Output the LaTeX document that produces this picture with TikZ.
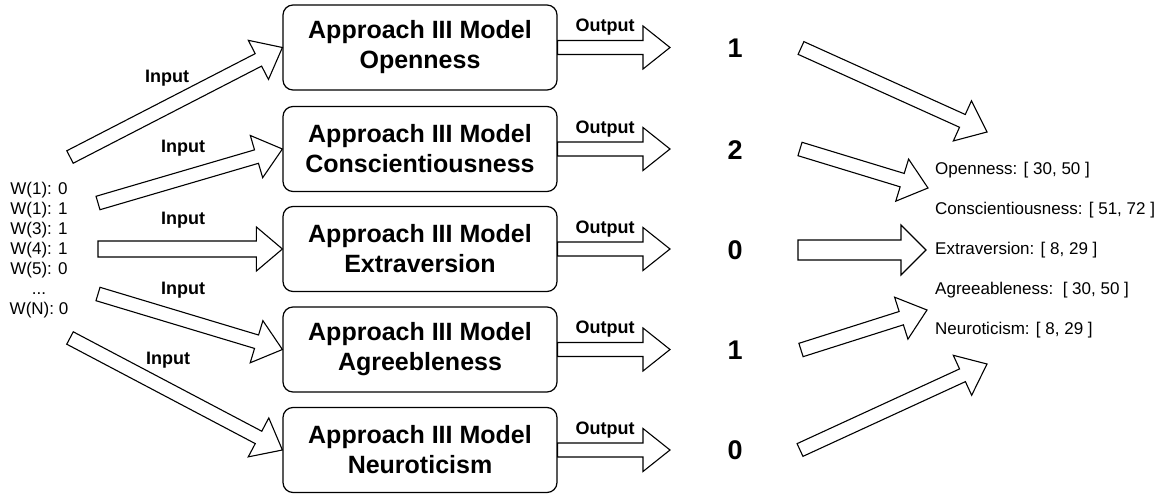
\documentclass[tikz,border=0pt]{standalone}
\usepackage{fontspec}
\setmainfont{Liberation Sans}
\usetikzlibrary{calc}

% Hollow block arrow from #1 (tail) to #2 (tip):
% #3 half shaft width, #4 half head width, #5 head length
\newcommand\fatarrow[5]{%
  \coordinate (fahead) at ($(#2)!#5!(#1)$);
  \draw[fat] ($(#1)!#3!90:(#2)$) -- ($(fahead)!#3!-90:(#1)$)
    -- ($(fahead)!#4!-90:(#1)$) -- (#2) -- ($(fahead)!#4!90:(#1)$)
    -- ($(fahead)!#3!90:(#1)$) -- ($(#1)!#3!-90:(#2)$) -- cycle;
}

\tikzset{
  fat/.style={draw=black, line width=1.1pt, fill=white, line join=miter},
  model/.style={draw, rounded corners=10pt, line width=1.2pt,
    minimum width=274pt, minimum height=85pt, align=center, inner sep=0pt,
    font=\fontsize{25pt}{30pt}\selectfont\bfseries},
  lbl/.style={font=\fontsize{18pt}{20pt}\selectfont\bfseries, inner sep=0pt},
  score/.style={font=\fontsize{27pt}{30pt}\selectfont\bfseries, inner sep=0pt},
  scorerange/.style={font=\fontsize{17pt}{20pt}\selectfont, anchor=west, inner sep=0pt},
}

\begin{document}
\begin{tikzpicture}[x=1pt,y=-1pt]
\useasboundingbox (0,0) rectangle (1170,495);

% weight vector
\node[font=\fontsize{17pt}{20pt}\selectfont, align=center, inner sep=0pt] (w) at (39,250)
  {W(1): 0\\W(1): 1\\W(3): 1\\W(4): 1\\W(5): 0\\...\\W(N): 0};

% the five trait models
\node[model] (m1) at (420,47.5) {Approach III Model\\Openness};
\node[model] (m2) at (420,149) {Approach III Model\\Conscientiousness};
\node[model] (m3) at (420,249) {Approach III Model\\Extraversion};
\node[model] (m4) at (420,349.5) {Approach III Model\\Agreebleness};
\node[model] (m5) at (420,450) {Approach III Model\\Neuroticism};

% predicted classes
\node[score] (n1) at (735,48) {1};
\node[score] (n2) at (735,150) {2};
\node[score] (n3) at (735,250) {0};
\node[score] (n4) at (735,350) {1};
\node[score] (n5) at (735,450) {0};

% score ranges
\node[scorerange] (t1) at (935,170) {Openness: [ 30, 50 ]};
\node[scorerange] (t2) at (935,210) {Conscientiousness: [ 51, 72 ]};
\node[scorerange] (t3) at (935,250) {Extraversion: [ 8, 29 ]};
\node[scorerange] (t4) at (935,290) {Agreeableness:\ \ [ 30, 50 ]};
\node[scorerange] (t5) at (935,330) {Neuroticism: [ 8, 29 ]};

% arrow end points
\coordinate (in1) at (70,157);
\coordinate (in2) at (98,203);
\coordinate (in3) at (98,249);
\coordinate (in4) at (98,294);
\coordinate (in5) at (70,338);
\coordinate (o1) at (670,47.5);
\coordinate (o2) at (670,149);
\coordinate (o3) at (670,249);
\coordinate (o4) at (670,349.5);
\coordinate (o5) at (670,450);
\coordinate (r1a) at (801,48);   \coordinate (r1b) at (987,132);
\coordinate (r2a) at (800,149);  \coordinate (r2b) at (928,188);
\coordinate (r3a) at (798,250);  \coordinate (r3b) at (926,250);
\coordinate (r4a) at (801,350);  \coordinate (r4b) at (927,310);
\coordinate (r5a) at (800,450);  \coordinate (r5b) at (987,364);

% inputs
\fatarrow{in1}{m1.west}{7pt}{22pt}{27pt}
\fatarrow{in2}{m2.west}{7pt}{22pt}{27pt}
\fatarrow{in3}{m3.west}{8pt}{22pt}{26pt}
\fatarrow{in4}{m4.west}{7pt}{22pt}{27pt}
\fatarrow{in5}{m5.west}{7pt}{22pt}{27pt}

\node[lbl] (l1) at (167,78) {Input};
\node[lbl] (l2) at (183,148) {Input};
\node[lbl] (l3) at (183,220) {Input};
\node[lbl] (l4) at (183,290) {Input};
\node[lbl] (l5) at (168,360) {Input};

% outputs
\fatarrow{m1.east}{o1}{7pt}{21.5pt}{27pt}
\fatarrow{m2.east}{o2}{7pt}{21.5pt}{27pt}
\fatarrow{m3.east}{o3}{7pt}{21.5pt}{27pt}
\fatarrow{m4.east}{o4}{7pt}{21.5pt}{27pt}
\fatarrow{m5.east}{o5}{7pt}{21.5pt}{27pt}

\node[lbl] (p1) at (605,27.5) {Output};
\node[lbl] (p2) at (605,129) {Output};
\node[lbl] (p3) at (605,229) {Output};
\node[lbl] (p4) at (605,329.5) {Output};
\node[lbl] (p5) at (605,430) {Output};

% mapping to ranges
\fatarrow{r1a}{r1b}{7pt}{22pt}{27pt}
\fatarrow{r2a}{r2b}{7pt}{22pt}{27pt}
\fatarrow{r3a}{r3b}{10pt}{25pt}{25pt}
\fatarrow{r4a}{r4b}{7pt}{22pt}{27pt}
\fatarrow{r5a}{r5b}{7pt}{22pt}{27pt}
\end{tikzpicture}
\end{document}
